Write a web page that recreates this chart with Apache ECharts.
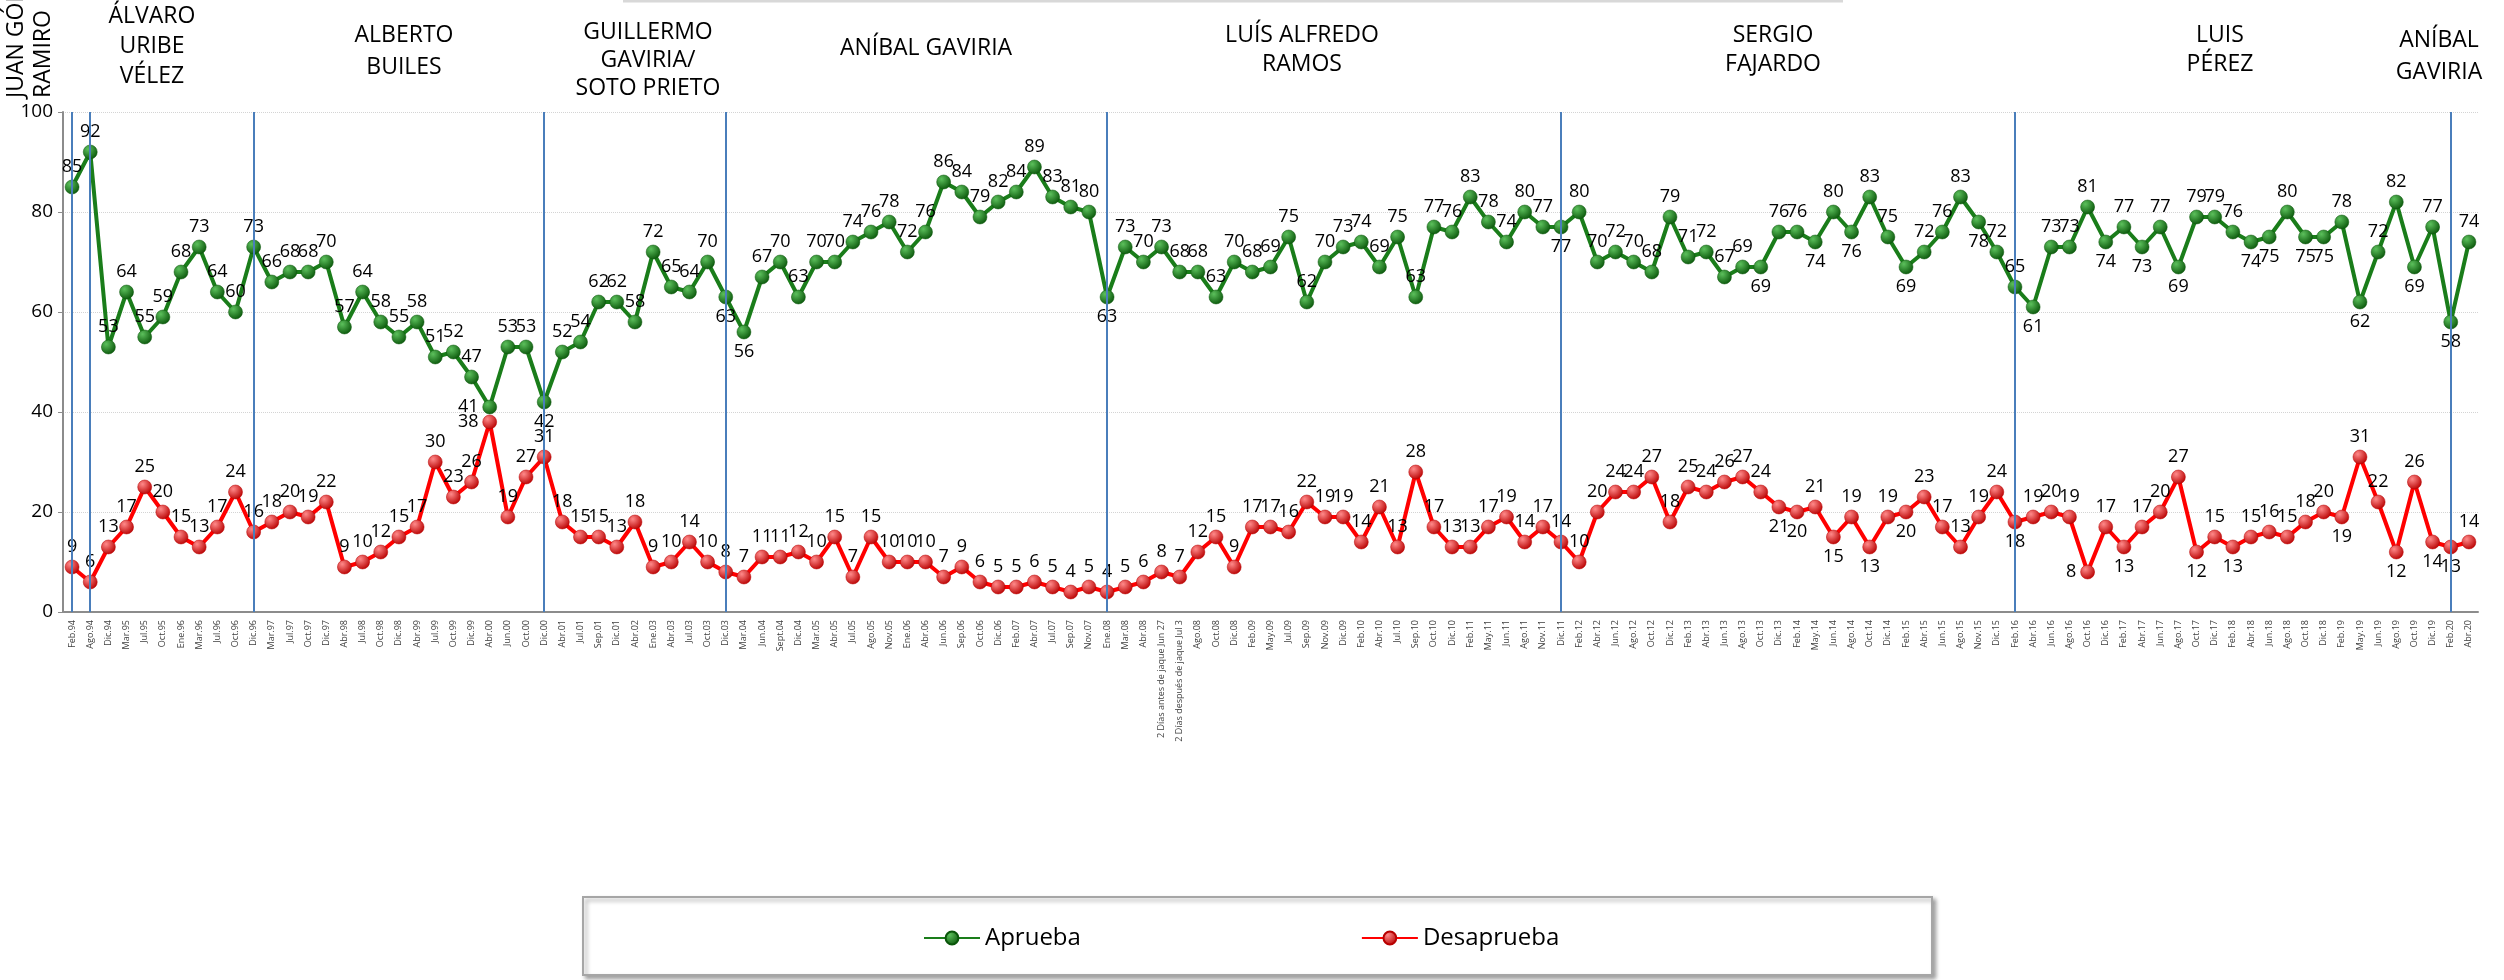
<!DOCTYPE html>
<html>
<head>
<meta charset="utf-8">
<script src="https://cdn.jsdelivr.net/npm/echarts@6/dist/echarts.min.js"></script>
<style>
  html, body { margin: 0; padding: 0; background: #fff; }
  #chart { width: 2504px; height: 980px; }
</style>
</head>
<body>
<div id="chart"></div>
<script>
const categories = [
  "Feb.94", "Ago.94", "Dic.94", "Mar.95", "Jul.95", "Oct.95", "Ene.96", "Mar.96", "Jul.96", "Oct.96",
  "Dic.96", "Mar.97", "Jul.97", "Oct.97", "Dic.97", "Abr.98", "Jul.98", "Oct.98", "Dic.98", "Abr.99",
  "Jul.99", "Oct.99", "Dic.99", "Abr.00", "Jun.00", "Oct.00", "Dic.00", "Abr.01", "Jul.01", "Sep.01",
  "Dic.01", "Abr.02", "Ene.03", "Abr.03", "Jul.03", "Oct.03", "Dic.03", "Mar.04", "Jun.04", "Sept.04",
  "Dic.04", "Mar.05", "Abr.05", "Jul.05", "Ago.05", "Nov.05", "Ene.06", "Abr.06", "Jun.06", "Sep.06",
  "Oct.06", "Dic.06", "Feb.07", "Abr.07", "Jul.07", "Sep.07", "Nov.07", "Ene.08", "Mar.08", "Abr.08",
  "2 Días antes de jaque Jun 27", "2 Días después de jaque Jul 3", "Ago.08", "Oct.08", "Dic.08", "Feb.09", "May.09", "Jul.09", "Sep.09", "Nov.09",
  "Dic.09", "Feb.10", "Abr.10", "Jul.10", "Sep.10", "Oct.10", "Dic.10", "Feb.11", "May.11", "Jun.11",
  "Ago.11", "Nov.11", "Dic.11", "Feb.12", "Abr.12", "Jun.12", "Ago.12", "Oct.12", "Dic.12", "Feb.13",
  "Abr.13", "Jun.13", "Ago.13", "Oct.13", "Dic.13", "Feb.14", "May.14", "Jun.14", "Ago.14", "Oct.14",
  "Dic.14", "Feb.15", "Abr.15", "Jun.15", "Ago.15", "Nov.15", "Dic.15", "Feb.16", "Abr.16", "Jun.16",
  "Ago.16", "Oct.16", "Dic.16", "Feb.17", "Abr.17", "Jun.17", "Ago.17", "Oct.17", "Dic.17", "Feb.18",
  "Abr.18", "Jun.18", "Ago.18", "Oct.18", "Dic.18", "Feb.19", "May.19", "Jun.19", "Ago.19", "Oct.19",
  "Dic.19", "Feb.20", "Abr.20"
];

const aprueba = [
  85, 92, 53, 64, 55, 59, 68, 73, 64, 60,
  73, 66, 68, 68, 70, 57, 64, 58, 55, 58,
  51, 52, 47, 41, 53, 53, 42, 52, 54, 62,
  62, 58, 72, 65, 64, 70, 63, 56, 67, 70,
  63, 70, 70, 74, 76, 78, 72, 76, 86, 84,
  79, 82, 84, 89, 83, 81, 80, 63, 73, 70,
  73, 68, 68, 63, 70, 68, 69, 75, 62, 70,
  73, 74, 69, 75, 63, 77, 76, 83, 78, 74,
  80, 77, 77, 80, 70, 72, 70, 68, 79, 71,
  72, 67, 69, 69, 76, 76, 74, 80, 76, 83,
  75, 69, 72, 76, 83, 78, 72, 65, 61, 73,
  73, 81, 74, 77, 73, 77, 69, 79, 79, 76,
  74, 75, 80, 75, 75, 78, 62, 72, 82, 69,
  77, 58, 74
];

const desaprueba = [
  9, 6, 13, 17, 25, 20, 15, 13, 17, 24,
  16, 18, 20, 19, 22, 9, 10, 12, 15, 17,
  30, 23, 26, 38, 19, 27, 31, 18, 15, 15,
  13, 18, 9, 10, 14, 10, 8, 7, 11, 11,
  12, 10, 15, 7, 15, 10, 10, 10, 7, 9,
  6, 5, 5, 6, 5, 4, 5, 4, 5, 6,
  8, 7, 12, 15, 9, 17, 17, 16, 22, 19,
  19, 14, 21, 13, 28, 17, 13, 13, 17, 19,
  14, 17, 14, 10, 20, 24, 24, 27, 18, 25,
  24, 26, 27, 24, 21, 20, 21, 15, 19, 13,
  19, 20, 23, 17, 13, 19, 24, 18, 19, 20,
  19, 8, 17, 13, 17, 20, 27, 12, 15, 13,
  15, 16, 15, 18, 20, 19, 31, 22, 12, 26,
  14, 13, 14
];

// start of each mayor's period (blue separators)
const separators = ["Feb.94", "Ago.94", "Dic.96", "Dic.00", "Dic.03", "Ene.08", "Dic.11", "Feb.16", "Feb.20"];

// labels drawn under the point
const aprBelow = [26, 36, 37, 57, 82, 93, 96, 98, 101, 105, 108, 112, 114, 116, 120, 121, 123, 124, 126, 129, 131];
const desBelow = [94, 95, 97, 99, 101, 107, 113, 117, 119, 125, 128, 130, 131];
// labels drawn left of the point
const aprLeft = [23];
const desLeft = [23, 111];

const FONT = "'Open Sans', 'DejaVu Sans', sans-serif";

function withLabels(values, below, left) {
  return values.map((v, i) => {
    if (below.includes(i)) return { value: v, label: { position: "bottom" } };
    if (left.includes(i)) return { value: v, label: { position: "left" } };
    return v;
  });
}

const greenBall = new echarts.graphic.RadialGradient(0.35, 0.3, 0.75, [
  { offset: 0, color: "#5cc05c" },
  { offset: 1, color: "#0a560a" },
]);
const redBall = new echarts.graphic.RadialGradient(0.35, 0.3, 0.75, [
  { offset: 0, color: "#ff8a8a" },
  { offset: 1, color: "#b80000" },
]);

// mayor names above the plot (x = centre, y = centre of first line)
const headers = [
  { x: 152, y: 16, lh: 30, text: "ÁLVARO\nURIBE\nVÉLEZ" },
  { x: 404, y: 35, lh: 32, text: "ALBERTO\nBUILES" },
  { x: 648, y: 32, lh: 28, text: "GUILLERMO\nGAVIRIA/\nSOTO PRIETO" },
  { x: 926, y: 48, lh: 28, text: "ANÍBAL GAVIRIA" },
  { x: 1302, y: 35, lh: 29, text: "LUÍS ALFREDO\nRAMOS" },
  { x: 1773, y: 35, lh: 29, text: "SERGIO\nFAJARDO" },
  { x: 2220, y: 35, lh: 29, text: "LUIS\nPÉREZ" },
  { x: 2439, y: 40, lh: 32, text: "ANÍBAL\nGAVIRIA" },
];

const chart = echarts.init(document.getElementById("chart"));

const labelStyle = {
  show: true,
  position: "top",
  distance: 4,
  fontFamily: FONT,
  fontSize: 18,
  color: "#000",
};

const option = {
  animation: false,
  backgroundColor: "#ffffff",
  grid: { left: 63, right: 26, top: 112, bottom: 368 },
  legend: {
    left: 918,
    top: 921,
    itemWidth: 56,
    itemHeight: 16,
    itemGap: 280,
    textStyle: { fontFamily: FONT, fontSize: 24, color: "#000" },
    data: ["Aprueba", "Desaprueba"],
  },
  xAxis: {
    type: "category",
    data: categories,
    boundaryGap: true,
    axisLine: { lineStyle: { color: "#8c8c8c", width: 2 } },
    axisTick: { interval: 0, length: 5, lineStyle: { color: "#8c8c8c" } },
    axisLabel: {
      interval: 0,
      rotate: 90,
      fontFamily: FONT,
      fontSize: 9,
      color: "#404040",
      margin: 8,
    },
  },
  yAxis: {
    type: "value",
    min: 0,
    max: 100,
    interval: 20,
    axisLine: { show: true, lineStyle: { color: "#8c8c8c", width: 2 } },
    axisTick: { show: true, length: 5, lineStyle: { color: "#8c8c8c" } },
    axisLabel: { fontFamily: FONT, fontSize: 19, color: "#000", margin: 10 },
    splitLine: { lineStyle: { color: "#d4d4d4", type: "dotted", width: 1 } },
  },
  series: [
    {
      name: "Aprueba",
      type: "line",
      data: withLabels(aprueba, aprBelow, aprLeft),
      symbol: "circle",
      symbolSize: 14,
      itemStyle: { color: greenBall, borderColor: "#0a560a", borderWidth: 0.5 },
      lineStyle: { color: "#1a7d1a", width: 4 },
      label: labelStyle,
      markLine: {
        silent: true,
        symbol: "none",
        label: { show: false },
        lineStyle: { color: "#4a7ebb", width: 2, type: "solid" },
        data: separators.map((c) => ({ xAxis: c })),
      },
      z: 3,
    },
    {
      name: "Desaprueba",
      type: "line",
      data: withLabels(desaprueba, desBelow, desLeft),
      symbol: "circle",
      symbolSize: 14,
      itemStyle: { color: redBall, borderColor: "#b80000", borderWidth: 0.5 },
      lineStyle: { color: "#ff0000", width: 4 },
      label: labelStyle,
      z: 3,
    },
  ],
  graphic: [
    // faint frame line at the very top
    {
      type: "line",
      shape: { x1: 623, y1: 1, x2: 1843, y2: 1 },
      style: { stroke: "#d8d8d8", lineWidth: 3 },
    },
    // legend frame
    {
      type: "rect",
      shape: { x: 583, y: 897, width: 1349, height: 78 },
      style: {
        fill: "#fff",
        stroke: "#a6a6a6",
        lineWidth: 2,
        shadowBlur: 4,
        shadowOffsetX: 3,
        shadowOffsetY: 3,
        shadowColor: "rgba(0,0,0,0.35)",
      },
      z: -1,
    },
    {
      type: "text",
      x: 16,
      y: 98,
      rotation: Math.PI / 2,
      style: { text: "JUAN GÓMEZ", fontFamily: FONT, fontSize: 23, fill: "#000", align: "left", verticalAlign: "middle" },
    },
    {
      type: "text",
      x: 43,
      y: 98,
      rotation: Math.PI / 2,
      style: { text: "RAMIRO", fontFamily: FONT, fontSize: 23, fill: "#000", align: "left", verticalAlign: "middle" },
    },
  ].concat(
    headers.map((h) => ({
      type: "text",
      x: h.x,
      y: h.y - h.lh / 2,
      style: {
        text: h.text,
        fontFamily: FONT,
        fontSize: 23,
        lineHeight: h.lh,
        fill: "#000",
        align: "center",
        verticalAlign: "top",
      },
    }))
  ),
};

chart.setOption(option);
</script>
</body>
</html>
